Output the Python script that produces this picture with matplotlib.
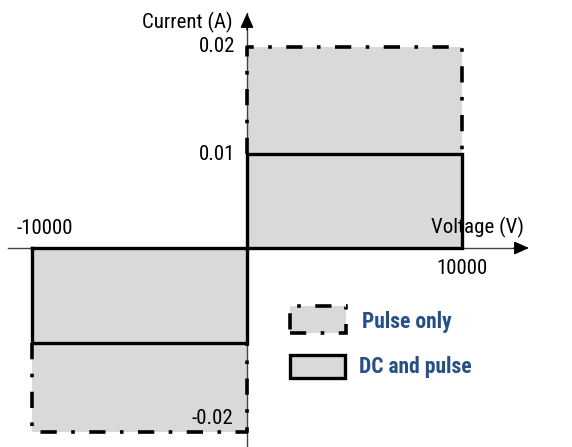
import numpy as np
import matplotlib
matplotlib.use("Agg")
import matplotlib.pyplot as plt
from matplotlib.patches import Rectangle

# ---- data ----
voltage_limits = [-10000, 10000]      # V
dc_current = 0.01                      # A (DC and pulse)
pulse_current = 0.02                   # A (pulse only)
y_tick_values = [0.02, 0.01, -0.02]
y_tick_labels = ["0.02", "0.01", "-0.02"]
x_tick_values = [-10000, 10000]
x_tick_labels = ["-10000", "10000"]
legend_labels = ["Pulse only", "DC and pulse"]

plt.rcParams['font.family'] = ['Roboto Condensed', 'Liberation Sans Narrow', 'Roboto', 'DejaVu Sans']

fig = plt.figure(figsize=(5.72, 4.47), dpi=100)
ax = fig.add_axes([0, 0, 1, 1])
ax.axis('off')

# schematic (non-uniform) current axis
yv = np.array([-0.04, -0.02, -0.01, 0.0, 0.01, 0.02, 0.04])
yp = np.array([-362.0, -184.0, -95.0, 0.0, 94.0, 201.0, 415.0])
fwd = lambda v: np.interp(v, yv, yp)
inv = lambda p: np.interp(p, yp, yv)
ax.set_yscale('function', functions=(fwd, inv))
ax.set_ylim(inv(-199), inv(248))
ax.set_xlim(-247 / 0.0215, 325 / 0.0215)

grey = '#d9d9d9'
vmin, vmax = voltage_limits

# fills
ax.add_patch(Rectangle((0, 0), vmax, pulse_current, facecolor=grey, edgecolor='none', zorder=1))
ax.add_patch(Rectangle((vmin, -pulse_current), -vmin, pulse_current, facecolor=grey, edgecolor='none', zorder=1))

# axes with arrows
x_left = (8 - 247) / 0.0215
x_tip = (529 - 247) / 0.0215
y_tip = inv(248 - 13)
ax.plot([x_left, x_tip - 600], [0, 0], color='#444444', lw=1.0, zorder=2)
ax.plot([0, 0], [inv(-205), y_tip], color='#444444', lw=1.0, zorder=2)
ax.annotate('', xy=(x_tip, 0), xytext=(x_tip - 700, 0),
            arrowprops=dict(arrowstyle='-|>,head_length=0.9,head_width=0.4', color='black', lw=1.0,
                            shrinkA=0, shrinkB=0), zorder=3)
ax.annotate('', xy=(0, y_tip), xytext=(0, inv(248 - 30)),
            arrowprops=dict(arrowstyle='-|>,head_length=0.9,head_width=0.4', color='black', lw=1.0,
                            shrinkA=0, shrinkB=0), zorder=3)

# DC and pulse outlines (solid)
lw_solid = 2.4
ax.plot([0, 0, vmax, vmax, 0], [0, dc_current, dc_current, 0, 0], color='black', lw=lw_solid,
        solid_joinstyle='miter', zorder=4)
ax.plot([vmin, vmin, 0, 0, vmin], [0, -dc_current, -dc_current, 0, 0], color='black', lw=lw_solid,
        solid_joinstyle='miter', zorder=4)

# pulse only outlines (dash-dot)
dashdot = (0, (4.5, 4, 1, 4))
ax.plot([0, 0, vmax, vmax], [dc_current, pulse_current, pulse_current, dc_current],
        color='black', lw=2.6, linestyle=dashdot, zorder=4)
ax.plot([vmin, vmin, 0, 0], [-dc_current, -pulse_current, -pulse_current, -dc_current],
        color='black', lw=2.6, linestyle=dashdot, zorder=4)

fs = 15
# tick labels
ax.annotate(y_tick_labels[0], xy=(0, y_tick_values[0]), xytext=(-12, 0), textcoords='offset pixels',
            ha='right', va='center', fontsize=fs)
ax.annotate(y_tick_labels[1], xy=(0, y_tick_values[1]), xytext=(-12, 0), textcoords='offset pixels',
            ha='right', va='center', fontsize=fs)
ax.annotate(y_tick_labels[2], xy=(0, y_tick_values[2]), xytext=(-14, 14), textcoords='offset pixels',
            ha='right', va='center', fontsize=fs)
ax.annotate(x_tick_labels[0], xy=(x_tick_values[0], 0), xytext=(-16, 20), textcoords='offset pixels',
            ha='left', va='center', fontsize=fs)
ax.annotate(x_tick_labels[1], xy=(x_tick_values[1], 0), xytext=(0, -20), textcoords='offset pixels',
            ha='center', va='center', fontsize=fs)
# axis titles
ax.annotate("Current (A)", xy=(0, y_tip), xytext=(-14, -9), textcoords='offset pixels',
            ha='right', va='center', fontsize=fs)
ax.annotate("Voltage (V)", xy=(vmax, 0), xytext=(-31, 21), textcoords='offset pixels',
            ha='left', va='center', fontsize=fs)

# legend
W, H = 572.0, 447.0
blue = '#234f8a'
fs_leg = 15.5
ax.add_patch(Rectangle((290 / W, (H - 333) / H), 56 / W, 27 / H, transform=ax.transAxes,
                       facecolor=grey, edgecolor='black', lw=2.6, linestyle=dashdot, zorder=5))
ax.add_patch(Rectangle((290 / W, (H - 378) / H), 55 / W, 23 / H, transform=ax.transAxes,
                       facecolor=grey, edgecolor='black', lw=lw_solid, zorder=5))
ax.text(362 / W, (H - 322) / H, legend_labels[0], transform=ax.transAxes, ha='left', va='center',
        fontsize=fs_leg, fontweight='bold', color=blue)
ax.text(359 / W, (H - 367) / H, legend_labels[1], transform=ax.transAxes, ha='left', va='center',
        fontsize=fs_leg, fontweight='bold', color=blue)

fig.savefig('out.png', dpi=100)
